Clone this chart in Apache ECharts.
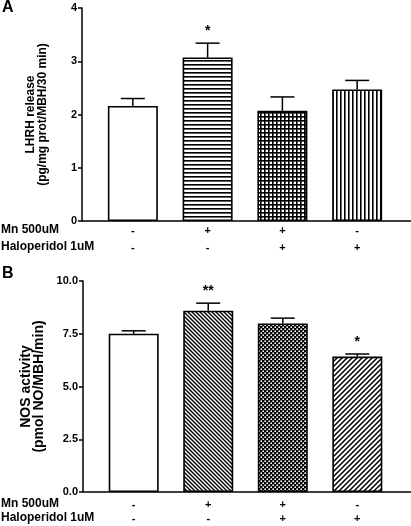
<!DOCTYPE html>
<html>
<head>
<meta charset="utf-8">
<script src="https://cdn.jsdelivr.net/npm/echarts@6/dist/echarts.min.js"></script>
<style>
html,body{margin:0;padding:0;background:#fff;}
#main{width:411px;height:526px;}
</style>
</head>
<body>
<div id="main"></div>
<script>
// ---- data ----
const groups = ['Control', 'Mn', 'Mn + Haloperidol', 'Haloperidol'];
const xPos = [1, 2, 3, 4];
const mnRow = ['-', '+', '+', '-'];
const halRow = ['-', '-', '+', '+'];
const rowLabels = ['Mn 500uM', 'Haloperidol 1uM'];

const lhrhMean = [2.16, 3.07, 2.07, 2.47];
const lhrhSem = [0.14, 0.27, 0.26, 0.17];
const lhrhSig = ['', '*', '', ''];
const lhrhTicks = [0, 1, 2, 3, 4];

const nosMean = [7.50, 8.59, 7.99, 6.42];
const nosSem = [0.14, 0.36, 0.25, 0.12];
const nosSig = ['', '**', '', '*'];
const nosTicks = [0, 2.5, 5, 7.5, 10];

// ---- patterns ----
function makeTile(w, h, draw) {
  const c = document.createElement('canvas');
  c.width = w; c.height = h;
  const ctx = c.getContext('2d');
  ctx.fillStyle = '#fff';
  ctx.fillRect(0, 0, w, h);
  ctx.fillStyle = '#000';
  ctx.strokeStyle = '#000';
  draw(ctx, w, h);
  return { image: c, repeat: 'repeat' };
}
const pWhite = '#ffffff';
const pHoriz = makeTile(4, 4, (ctx) => { ctx.fillRect(0, 0, 4, 1.6); });
const pGrid = makeTile(4, 4, (ctx) => { ctx.fillRect(0, 0, 4, 1.6); ctx.fillRect(0, 0, 1.6, 4); });
const pVert = makeTile(4.5, 4, (ctx) => { ctx.fillRect(0, 0, 1.6, 4); });
const pBack = makeTile(4, 4, (ctx) => {
  ctx.lineWidth = 1.4;
  ctx.beginPath();
  ctx.moveTo(-1, -1); ctx.lineTo(5, 5);
  ctx.moveTo(-1, 3); ctx.lineTo(1, 5);
  ctx.moveTo(3, -1); ctx.lineTo(5, 1);
  ctx.stroke();
});
const pChecker = makeTile(4, 4, (ctx) => {
  ctx.fillRect(0, 0, 4, 4);
  ctx.fillStyle = '#fff';
  ctx.fillRect(0.4, 0.4, 1.6, 1.6);
  ctx.fillRect(2.4, 2.4, 1.6, 1.6);
});
const pFwd = makeTile(5, 5, (ctx) => {
  ctx.lineWidth = 1.5;
  ctx.beginPath();
  ctx.moveTo(-1, 6); ctx.lineTo(6, -1);
  ctx.moveTo(-1, 1); ctx.lineTo(1, -1);
  ctx.moveTo(4, 6); ctx.lineTo(6, 4);
  ctx.stroke();
});
const lhrhFills = [pWhite, pHoriz, pGrid, pVert];
const nosFills = [pWhite, pBack, pChecker, pFwd];

// ---- chart ----
const chart = echarts.init(document.getElementById('main'), null, { renderer: 'canvas' });
const FONT = 'Liberation Sans, Arial, sans-serif';

function barData(means, fills) {
  return means.map((m, i) => ({
    value: [xPos[i], m],
    itemStyle: { color: fills[i], borderColor: '#000', borderWidth: 1.6 }
  }));
}
function errData(means, sems, sigs) {
  return means.map((m, i) => [xPos[i], m, m + sems[i], sigs[i]]);
}
function renderErr(params, api) {
  const x = api.value(0), m = api.value(1), t = api.value(2);
  const sig = api.value(3);
  const p0 = api.coord([x, m]);
  const p1 = api.coord([x, t]);
  const children = [
    { type: 'line', shape: { x1: p0[0], y1: p0[1], x2: p1[0], y2: p1[1] }, style: { stroke: '#000', lineWidth: 1.5 } },
    { type: 'line', shape: { x1: p1[0] - 12, y1: p1[1], x2: p1[0] + 12, y2: p1[1] }, style: { stroke: '#000', lineWidth: 1.5 } }
  ];
  if (sig && sig !== '-' ) {
    children.push({
      type: 'text',
      style: { text: sig, x: p1[0], y: p1[1] - 5, align: 'center', verticalAlign: 'bottom', font: 'bold 14px ' + FONT, fill: '#000' }
    });
  }
  return { type: 'group', children };
}

function xAxisCfg(gridIndex, lineH, margin) {
  return {
    type: 'value', gridIndex, min: 0.32, max: 4.72,
    axisLine: { show: true, lineStyle: { color: '#000', width: 1.5 } },
    axisTick: { show: false },
    splitLine: { show: false },
    axisLabel: {
      customValues: xPos,
      margin,
      formatter: (v) => { const i = xPos.indexOf(Math.round(v)); return i < 0 ? '' : mnRow[i] + '\n' + halRow[i]; },
      color: '#000', fontWeight: 'bold', fontSize: 11, lineHeight: lineH, fontFamily: FONT
    }
  };
}
function yAxisCfg(gridIndex, ticks, name, nameSize, nameLH, nameGap, fmt) {
  return {
    type: 'value', gridIndex, min: ticks[0], max: ticks[ticks.length - 1], interval: ticks[1] - ticks[0],
    name, nameLocation: 'middle', nameRotate: 90, nameGap,
    nameTextStyle: { color: '#000', fontWeight: 'bold', fontSize: nameSize, fontFamily: FONT, lineHeight: nameLH },
    axisLine: { show: true, lineStyle: { color: '#000', width: 1.5 } },
    axisTick: { show: true, length: 4, lineStyle: { color: '#000', width: 1.5 } },
    splitLine: { show: false },
    axisLabel: { color: '#000', fontWeight: 'bold', fontSize: 11, fontFamily: FONT, margin: 5, formatter: fmt }
  };
}

chart.setOption({
  animation: false,
  backgroundColor: '#fff',
  grid: [
    { left: 82, top: 8, height: 213, right: 0 },
    { left: 83, top: 281, height: 211, right: 0 }
  ],
  xAxis: [xAxisCfg(0, 17, 1.5), xAxisCfg(1, 14, 6)],
  yAxis: [
    yAxisCfg(0, lhrhTicks, 'LHRH release\n(pg/mg prot/MBH/30 min)', 12, 12, 33, (v) => String(v)),
    yAxisCfg(1, nosTicks, 'NOS activity\n(pmol NO/MBH/min)', 14, 13, 34, (v) => v.toFixed(1))
  ],
  series: [
    { type: 'bar', xAxisIndex: 0, yAxisIndex: 0, barWidth: 50, data: barData(lhrhMean, lhrhFills) },
    { type: 'custom', xAxisIndex: 0, yAxisIndex: 0, renderItem: renderErr, data: errData(lhrhMean, lhrhSem, lhrhSig), z: 3 },
    { type: 'bar', xAxisIndex: 1, yAxisIndex: 1, barWidth: 50, data: barData(nosMean, nosFills) },
    { type: 'custom', xAxisIndex: 1, yAxisIndex: 1, renderItem: renderErr, data: errData(nosMean, nosSem, nosSig), z: 3 }
  ],
  graphic: [
    { type: 'text', left: 2, top: 0, style: { text: 'A', font: 'bold 16px ' + FONT, fill: '#000' } },
    { type: 'text', left: 2, top: 266, style: { text: 'B', font: 'bold 16px ' + FONT, fill: '#000' } },
    { type: 'text', left: 1, top: 224, style: { text: rowLabels[0], font: 'bold 12px ' + FONT, fill: '#000' } },
    { type: 'text', left: 1, top: 241, style: { text: rowLabels[1], font: 'bold 12px ' + FONT, fill: '#000' } },
    { type: 'text', left: 1, top: 498, style: { text: rowLabels[0], font: 'bold 12px ' + FONT, fill: '#000' } },
    { type: 'text', left: 1, top: 512, style: { text: rowLabels[1], font: 'bold 12px ' + FONT, fill: '#000' } }
  ]
});
</script>
</body>
</html>
